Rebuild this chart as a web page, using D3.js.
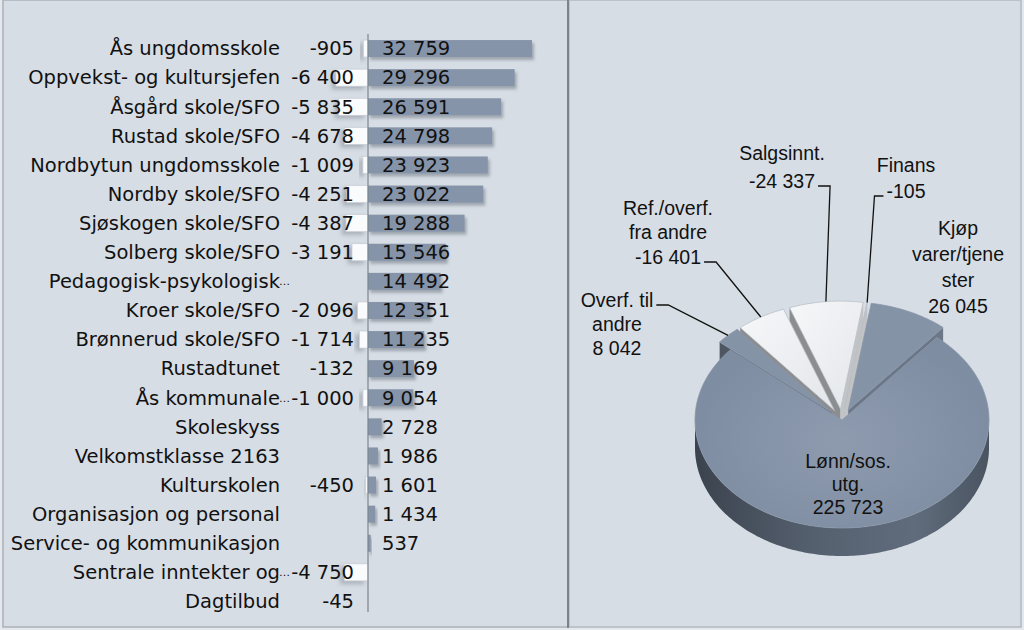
<!DOCTYPE html>
<html>
<head>
<meta charset="utf-8">
<script src="https://cdn.jsdelivr.net/npm/d3@7"></script>
<style>
  html, body { margin: 0; padding: 0; background: #ffffff; }
  svg { display: block; }
</style>
</head>
<body>
<svg width="1024" height="630"></svg>
<script>
// --- DATA: bar chart ---
const units = [
  "Ås ungdomsskole", "Oppvekst- og kultursjefen", "Åsgård skole/SFO", "Rustad skole/SFO",
  "Nordbytun ungdomsskole", "Nordby skole/SFO", "Sjøskogen skole/SFO", "Solberg skole/SFO",
  "Pedagogisk-psykologisk…", "Kroer skole/SFO", "Brønnerud skole/SFO", "Rustadtunet",
  "Ås kommunale…", "Skoleskyss", "Velkomstklasse 2163", "Kulturskolen",
  "Organisasjon og personal", "Service- og kommunikasjon", "Sentrale inntekter og…", "Dagtilbud"
];
const expenses = [32759, 29296, 26591, 24798, 23923, 23022, 19288, 15546, 14492, 12351,
  11235, 9169, 9054, 2728, 1986, 1601, 1434, 537, null, null];
const incomes = [-905, -6400, -5835, -4678, -1009, -4251, -4387, -3191, null, -2096,
  -1714, -132, -1000, null, null, -450, null, null, -4750, -45];

// --- DATA: pie chart ---
const pieNames = ["Kjøp varer/tjenester", "Lønn/sos. utg.", "Overf. til andre",
  "Ref./overf. fra andre", "Salgsinnt.", "Finans"];
const pieValues = [26045, 225723, 8042, -16401, -24337, -105];
const pieLabelLines = [["Kjøp", "varer/tjene", "ster"], ["Lønn/sos.", "utg."], ["Overf. til", "andre"],
  ["Ref./overf.", "fra andre"], ["Salgsinnt."], ["Finans"]];

const svg = d3.select("svg");
const fmt = d3.formatLocale({ decimal: ",", thousands: " ", grouping: [3], currency: ["", ""], minus: "-" }).format(",d");

// --- BACKGROUND / PANELS ---
svg.append("rect").attr("width", 1024).attr("height", 630).attr("fill", "#e4e7eb");
svg.append("rect").attr("x", 3).attr("y", 0).attr("width", 565).attr("height", 627)
  .attr("fill", "#d7dde4").attr("stroke", "#aab1ba").attr("stroke-width", 1.5);
svg.append("rect").attr("x", 569).attr("y", 0).attr("width", 452).attr("height", 627)
  .attr("fill", "#d7dde4").attr("stroke", "#b3b9c1").attr("stroke-width", 1.5);
svg.append("line").attr("x1", 568).attr("x2", 568).attr("y1", 0).attr("y2", 628)
  .attr("stroke", "#7b838d").attr("stroke-width", 2);

const defs = svg.append("defs");
const shadow = defs.append("filter").attr("id", "shadow")
  .attr("x", "-20%").attr("y", "-40%").attr("width", "150%").attr("height", "200%");
shadow.append("feDropShadow").attr("dx", 2).attr("dy", 3).attr("stdDeviation", 1.8)
  .attr("flood-color", "#56606e").attr("flood-opacity", 0.45);
const shadowNeg = defs.append("filter").attr("id", "shadowNeg")
  .attr("x", "-60%").attr("y", "-40%").attr("width", "200%").attr("height", "200%");
shadowNeg.append("feDropShadow").attr("dx", -4).attr("dy", 3).attr("stdDeviation", 2)
  .attr("flood-color", "#56606e").attr("flood-opacity", 0.35);

// --- BAR CHART ---
const x = d3.scaleLinear().domain([0, 32759]).range([368, 532]);
const y = d3.scaleBand().domain(units).range([34, 616]).paddingInner(0.416).paddingOuter(0.208);
const rows = units.map((u, i) => ({ name: u, pos: expenses[i], neg: incomes[i] }));

const bars = svg.append("g");
bars.selectAll("rect.neg").data(rows.filter(d => d.neg != null)).join("rect")
  .attr("class", "neg")
  .attr("x", d => x(d.neg)).attr("width", d => x(0) - x(d.neg))
  .attr("y", d => y(d.name)).attr("height", y.bandwidth())
  .attr("fill", "#fafbfc").attr("stroke", "#c4c9d0").attr("stroke-width", 0.6)
  .attr("filter", "url(#shadowNeg)");
bars.selectAll("rect.pos").data(rows.filter(d => d.pos != null)).join("rect")
  .attr("class", "pos")
  .attr("x", x(0)).attr("width", d => x(d.pos) - x(0))
  .attr("y", d => y(d.name)).attr("height", y.bandwidth())
  .attr("fill", "#8694a9")
  .attr("filter", "url(#shadow)");

svg.append("line").attr("x1", x(0)).attr("x2", x(0))
  .attr("y1", y.range()[0]).attr("y2", y.range()[1] - 4)
  .attr("stroke", "#7d858f").attr("stroke-width", 1.2);

const catG = svg.append("g").attr("font-family", "DejaVu Sans").attr("font-size", "19.5px").attr("fill", "#111");
rows.forEach(d => {
  const cy = y(d.name) + y.bandwidth() / 2;
  const trunc = d.name.endsWith("…");
  const main = trunc ? d.name.slice(0, -1) : d.name;
  catG.append("text").attr("x", 280).attr("y", cy).attr("dy", "0.35em")
    .attr("text-anchor", "end").text(main);
  if (trunc) {
    catG.append("text").attr("x", 279).attr("y", cy).attr("dy", "0.35em")
      .attr("font-size", "11px").text("…");
  }
  if (d.neg != null) {
    catG.append("text").attr("x", 354).attr("y", cy).attr("dy", "0.35em")
      .attr("text-anchor", "end").text(fmt(d.neg));
  }
  if (d.pos != null) {
    catG.append("text").attr("x", 382).attr("y", cy).attr("dy", "0.35em").text(fmt(d.pos));
  }
});

// --- 3D PIE ---
const cx = 842, cy = 420, rx = 147, ry = 108, depth = 28, explode = 15;
const k = ry / rx;
const start = 9 * Math.PI / 180;
const pie = d3.pie().sort(null).value(d => Math.abs(d.value))
  .startAngle(start).endAngle(start + 2 * Math.PI);
const slices = pie(pieNames.map((n, i) => ({ name: n, value: pieValues[i], lines: pieLabelLines[i] })));
slices.forEach(s => {
  s.mid = (s.startAngle + s.endAngle) / 2;
  const e = s.data.name.startsWith("Lønn") ? 0 : explode;
  s.off = [e * Math.sin(s.mid), -e * Math.cos(s.mid) * k];
  s.base = s.data.value > 0 ? "#8593a7" : "#eff1f4";
});

function pt(s, a, r, h) {
  return [cx + s.off[0] + r * Math.sin(a), cy + s.off[1] - r * Math.cos(a) * k + h];
}
function arcPts(s, a0, a1, h) {
  const n = Math.max(2, Math.ceil((a1 - a0) / 0.02));
  return d3.range(n + 1).map(i => pt(s, a0 + (a1 - a0) * i / n, rx, h));
}
const line = d3.line();

const lgW = defs.append("linearGradient").attr("id", "wallGrad")
  .attr("gradientUnits", "userSpaceOnUse").attr("x1", cx - rx).attr("x2", cx + rx).attr("y1", 0).attr("y2", 0);
[["0%", "#3b434e"], ["40%", "#55606f"], ["75%", "#606c7c"], ["100%", "#4a5461"]]
  .forEach(([o, c]) => lgW.append("stop").attr("offset", o).attr("stop-color", c));
const rgT = defs.append("radialGradient").attr("id", "topGrad")
  .attr("gradientUnits", "userSpaceOnUse").attr("cx", cx).attr("cy", cy + 20).attr("r", rx)
  .attr("gradientTransform", `translate(0,${cy + 20}) scale(1,${k}) translate(0,${-(cy + 20)})`);
[["0%", "#8e9baf"], ["100%", "#7f8da2"]]
  .forEach(([o, c]) => rgT.append("stop").attr("offset", o).attr("stop-color", c));
const lgWhite = defs.append("linearGradient").attr("id", "whiteGrad")
  .attr("x1", 0).attr("x2", 1).attr("y1", 0).attr("y2", 1);
[["0%", "#f6f7f9"], ["100%", "#e3e6ea"]]
  .forEach(([o, c]) => lgWhite.append("stop").attr("offset", o).attr("stop-color", c));

const pieG = svg.append("g");
const order = slices.slice().sort((a, b) => Math.cos(b.mid) - Math.cos(a.mid));
order.forEach(s => {
  const g = pieG.append("g");
  // radial walls facing the viewer
  [[s.startAngle, s.startAngle - Math.PI / 2], [s.endAngle, s.endAngle + Math.PI / 2]].forEach(([a, nrm]) => {
    if (Math.cos(nrm) >= 0) return;
    const q = [pt(s, a, 0, 0), pt(s, a, rx, 0), pt(s, a, rx, depth), pt(s, a, 0, depth)];
    const c = d3.color(s.base).darker(Math.sin(nrm) < 0 ? 1.5 : 0.6);
    g.append("path").attr("d", line(q) + "Z").attr("fill", c);
  });
  // front outer wall
  const a0 = Math.max(s.startAngle, Math.PI / 2), a1 = Math.min(s.endAngle, 3 * Math.PI / 2);
  if (a1 > a0) {
    const p = arcPts(s, a0, a1, 0).concat(arcPts(s, a0, a1, depth).reverse());
    g.append("path").attr("d", line(p) + "Z").attr("fill", "url(#wallGrad)");
  }
  // top face
  const top = [pt(s, 0, 0, 0)].concat(arcPts(s, s.startAngle, s.endAngle, 0));
  g.append("path").attr("d", line(top) + "Z")
    .attr("fill", s.data.value > 0 ? (s.data.name.startsWith("Lønn") ? "url(#topGrad)" : s.base) : "url(#whiteGrad)")
    .attr("stroke", s.data.value > 0 ? "#8a97aa" : "#b9bfc7").attr("stroke-width", 0.8);
});

// --- PIE LABELS ---
const labelLayout = [
  { x: 958, y: 228, lh: 26, leader: null },
  { x: 848, y: 461, lh: 23, leader: null },
  { x: 617, y: 300, lh: 24, leader: 0 },
  { x: 668, y: 208, lh: 24.5, leader: 2 },
  { x: 782, y: 153, lh: 28, leader: 1 },
  { x: 906, y: 165, lh: 26, leader: 1 }
];
const labG = svg.append("g").attr("font-family", "Liberation Sans").attr("font-size", "19.5px").attr("fill", "#111");
slices.forEach((s, i) => {
  const L = labelLayout[i];
  const lines = s.data.lines.concat([fmt(s.data.value)]);
  const texts = lines.map((t, j) => labG.append("text").attr("x", L.x).attr("y", L.y + j * L.lh)
    .attr("dy", "0.35em").attr("text-anchor", "middle").text(t));
  if (L.leader == null) return;
  const rim = pt(s, s.mid, rx, 0);
  const w = texts[L.leader].node().getComputedTextLength();
  const ly = L.y + L.leader * L.lh + 5;
  const right = rim[0] > L.x;
  const sx = right ? L.x + w / 2 + 3 : L.x - w / 2 - 3;
  const ex = right ? sx + 12 : sx - 9;
  svg.append("path").attr("d", line([[sx, ly], [ex, ly], rim]))
    .attr("fill", "none").attr("stroke", "#111").attr("stroke-width", 1.3);
});
</script>
</body>
</html>
